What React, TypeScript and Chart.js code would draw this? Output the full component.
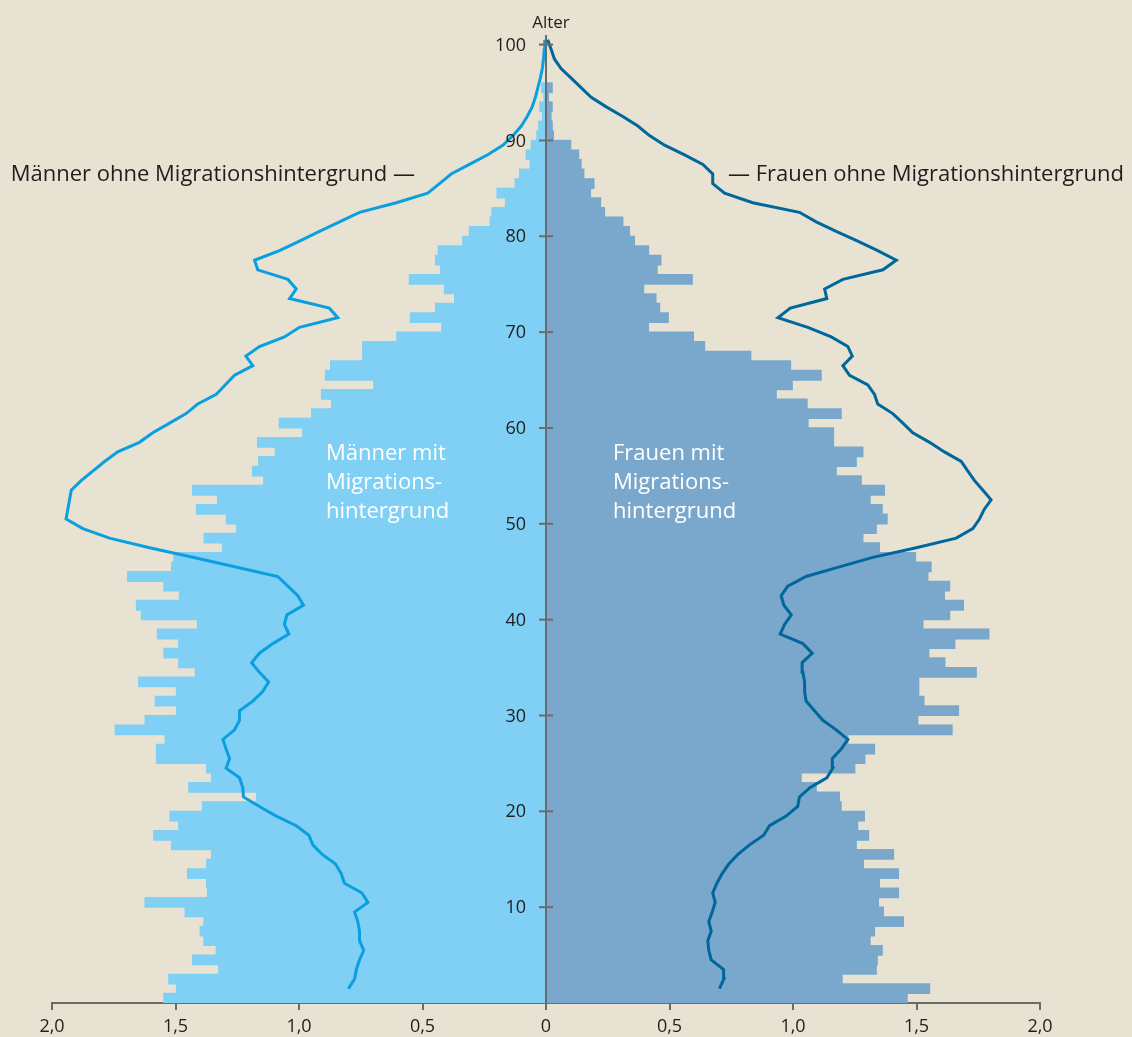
import { useEffect, useRef } from 'react';
import { Chart, registerables } from 'chart.js';

Chart.register(...registerables);

// Share of population (%) per single year of age, ages 0..100
const menWithMigration = [
  1.547, 1.496, 1.527, 1.325, 1.431, 1.335, 1.385, 1.40, 1.385, 1.461,
  1.623, 1.370, 1.374, 1.451, 1.374, 1.354, 1.516, 1.588, 1.487, 1.522,
  1.391, 1.172, 1.446, 1.354, 1.374, 1.577, 1.577, 1.542, 1.744, 1.623,
  1.496, 1.582, 1.496, 1.649, 1.420, 1.487, 1.547, 1.487, 1.573, 1.411,
  1.638, 1.658, 1.484, 1.547, 1.694, 1.516, 1.507, 1.310, 1.384, 1.253,
  1.294, 1.415, 1.330, 1.431, 1.143, 1.188, 1.163, 1.096, 1.168, 0.985,
  1.080, 0.949, 0.868, 0.909, 0.697, 0.893, 0.872, 0.742, 0.742, 0.604,
  0.422, 0.549, 0.447, 0.370, 0.411, 0.553, 0.427, 0.447, 0.436, 0.337,
  0.310, 0.226, 0.219, 0.164, 0.198, 0.125, 0.107, 0.064, 0.080, 0.060,
  0.037, 0.029, 0.014, 0.025, 0.008, 0.017, 0, 0, 0, 0, 0,
];

const womenWithMigration = [
  1.462, 1.553, 1.199, 1.337, 1.341, 1.361, 1.312, 1.330, 1.447, 1.366,
  1.346, 1.427, 1.350, 1.427, 1.285, 1.407, 1.256, 1.306, 1.262, 1.289,
  1.195, 1.188, 1.094, 1.033, 1.250, 1.291, 1.330, 1.222, 1.644, 1.505,
  1.670, 1.530, 1.509, 1.509, 1.742, 1.615, 1.550, 1.655, 1.793, 1.526,
  1.634, 1.690, 1.613, 1.634, 1.546, 1.559, 1.496, 1.350, 1.283, 1.337,
  1.381, 1.361, 1.312, 1.370, 1.276, 1.175, 1.256, 1.283, 1.164, 1.164,
  1.061, 1.195, 1.057, 0.932, 0.997, 1.114, 0.990, 0.829, 0.642, 0.597,
  0.415, 0.495, 0.460, 0.445, 0.395, 0.592, 0.450, 0.465, 0.415, 0.358,
  0.338, 0.311, 0.237, 0.221, 0.180, 0.194, 0.153, 0.142, 0.132, 0.100,
  0.030, 0.025, 0.020, 0.025, 0.010, 0.025, 0, 0, 0, 0, 0,
];

// Lines: ages 1..100
const menWithout = [
  0.800, 0.775, 0.768, 0.755, 0.738, 0.755, 0.755, 0.762, 0.775, 0.721,
  0.746, 0.816, 0.829, 0.852, 0.906, 0.944, 0.960, 1.011, 1.092, 1.160,
  1.225, 1.228, 1.241, 1.295, 1.281, 1.295, 1.308, 1.261, 1.241, 1.241,
  1.187, 1.147, 1.123, 1.160, 1.192, 1.160, 1.106, 1.041, 1.059, 1.049,
  0.982, 1.005, 1.045, 1.086, 1.256, 1.430, 1.605, 1.767, 1.875, 1.943,
  1.936, 1.929, 1.922, 1.882, 1.835, 1.787, 1.734, 1.646, 1.592, 1.524,
  1.457, 1.410, 1.335, 1.298, 1.261, 1.187, 1.215, 1.160, 1.059, 0.998,
  0.843, 0.877, 1.038, 1.011, 1.045, 1.167, 1.180, 1.079, 0.998, 0.917,
  0.836, 0.755, 0.606, 0.479, 0.431, 0.384, 0.310, 0.236, 0.175, 0.134,
  0.100, 0.076, 0.056, 0.043, 0.033, 0.023, 0.015, 0.010, 0.007, 0.005,
];

const womenWithout = [
  0.702, 0.720, 0.719, 0.669, 0.659, 0.655, 0.669, 0.659, 0.673, 0.685,
  0.675, 0.692, 0.713, 0.740, 0.777, 0.824, 0.881, 0.905, 0.972, 1.019,
  1.026, 1.070, 1.137, 1.161, 1.159, 1.195, 1.222, 1.175, 1.121, 1.087,
  1.053, 1.047, 1.047, 1.040, 1.037, 1.078, 1.040, 0.948, 0.966, 0.993,
  0.963, 0.952, 0.979, 1.053, 1.188, 1.323, 1.499, 1.661, 1.728, 1.755,
  1.774, 1.802, 1.769, 1.735, 1.708, 1.681, 1.613, 1.553, 1.485, 1.445,
  1.404, 1.343, 1.330, 1.303, 1.229, 1.202, 1.240, 1.222, 1.155, 1.060,
  0.939, 0.989, 1.137, 1.128, 1.202, 1.364, 1.418, 1.343, 1.262, 1.175,
  1.094, 1.026, 0.837, 0.723, 0.675, 0.675, 0.635, 0.561, 0.480, 0.419,
  0.372, 0.311, 0.244, 0.183, 0.142, 0.102, 0.061, 0.034, 0.021, 0.007,
];

const xTickValues = [-2, -1.5, -1, -0.5, 0, 0.5, 1, 1.5, 2];
const xTickLabels = ['2,0', '1,5', '1,0', '0,5', '0', '0,5', '1,0', '1,5', '2,0'];
const yTickValues = [10, 20, 30, 40, 50, 60, 70, 80, 90, 100];
const yTickLabels = ['10', '20', '30', '40', '50', '60', '70', '80', '90', '100'];

const FONT = '"Open Sans", "Noto Sans", sans-serif';
const BG = '#e8e2d3';
const AXIS = '#6b6b6b';
const TEXT = '#1e1e1e';

const overlay = {
  id: 'overlay',
  afterDatasetsDraw(chart: any) {
    const { ctx, scales } = chart;
    const xs = scales.x;
    const ys = scales.y;
    const x0 = xs.getPixelForValue(0);
    ctx.save();
    ctx.strokeStyle = AXIS;
    ctx.lineWidth = 2;
    ctx.beginPath();
    ctx.moveTo(x0, ys.getPixelForValue(101));
    ctx.lineTo(x0, ys.getPixelForValue(0));
    ctx.stroke();
    ctx.font = `18px ${FONT}`;
    ctx.fillStyle = TEXT;
    ctx.textAlign = 'right';
    ctx.textBaseline = 'middle';
    yTickValues.forEach((v, i) => {
      const py = ys.getPixelForValue(v);
      ctx.beginPath();
      ctx.moveTo(x0 - 7, py);
      ctx.lineTo(x0 + 7, py);
      ctx.stroke();
      ctx.fillText(yTickLabels[i], x0 - 20, py + 1);
    });
    ctx.textAlign = 'center';
    ctx.textBaseline = 'alphabetic';
    ctx.font = `17px ${FONT}`;
    ctx.fillText('Alter', x0 + 5, 28);

    ctx.font = `22px ${FONT}`;
    ctx.textAlign = 'right';
    ctx.fillText('Männer ohne Migrationshintergrund —', 415, 181);
    ctx.textAlign = 'left';
    ctx.fillText('— Frauen ohne Migrationshintergrund', 728, 181);

    ctx.fillStyle = '#ffffff';
    ctx.font = `22px ${FONT}`;
    ['Männer mit', 'Migrations-', 'hintergrund'].forEach((t, i) => {
      ctx.fillText(t, 326, 460 + i * 29);
    });
    ['Frauen mit', 'Migrations-', 'hintergrund'].forEach((t, i) => {
      ctx.fillText(t, 613, 460 + i * 29);
    });
    ctx.restore();
  },
};

export default function App() {
  const ref = useRef<HTMLCanvasElement>(null);

  useEffect(() => {
    document.body.style.margin = '0';
    document.body.style.background = BG;
    const canvas = ref.current;
    if (!canvas) return;

    const barPoint = (sign: number) => (v: number, i: number) => ({ x: sign * v, y: i + 0.5 });
    const linePoint = (sign: number) => (v: number, i: number) => ({ x: sign * v, y: i + 1.5 });

    const chart = new Chart(canvas, {
      type: 'bar',
      data: {
        datasets: [
          {
            type: 'line',
            label: 'Männer ohne Migrationshintergrund',
            data: menWithout.map(linePoint(-1)),
            borderColor: '#0a9fdf',
            borderWidth: 3,
            pointRadius: 0,
            tension: 0,
            order: 0,
          } as any,
          {
            type: 'line',
            label: 'Frauen ohne Migrationshintergrund',
            data: womenWithout.map(linePoint(1)),
            borderColor: '#00679c',
            borderWidth: 3,
            pointRadius: 0,
            tension: 0,
            order: 0,
          } as any,
          {
            type: 'bar',
            label: 'Männer mit Migrationshintergrund',
            data: menWithMigration.map(barPoint(-1)),
            backgroundColor: '#80cff4',
            borderWidth: 0,
            inflateAmount: 0.6,
            order: 1,
          } as any,
          {
            type: 'bar',
            label: 'Frauen mit Migrationshintergrund',
            data: womenWithMigration.map(barPoint(1)),
            backgroundColor: '#7aa8cc',
            borderWidth: 0,
            inflateAmount: 0.6,
            order: 1,
          } as any,
        ],
      },
      options: {
        indexAxis: 'y',
        animation: false,
        responsive: false,
        maintainAspectRatio: false,
        layout: { padding: { left: 52, right: 92, top: 35, bottom: 0 } },
        plugins: { legend: { display: false }, tooltip: { enabled: false } },
        datasets: {
          bar: { grouped: false, barPercentage: 1, categoryPercentage: 1 },
        } as any,
        scales: {
          x: {
            type: 'linear',
            min: -2,
            max: 2,
            offset: false,
            afterBuildTicks: (s: any) => {
              s.ticks = xTickValues.map((v) => ({ value: v }));
            },
            afterFit: (s: any) => {
              s.height = 34;
            },
            ticks: {
              callback: (_v: any, i: number) => xTickLabels[i],
              font: { family: FONT, size: 18 },
              color: TEXT,
              padding: 6,
              maxRotation: 0,
              autoSkip: false,
            },
            grid: {
              drawOnChartArea: false,
              drawTicks: true,
              tickLength: 7,
              color: AXIS,
              lineWidth: 2,
              offset: false,
            },
            border: { display: true, color: AXIS, width: 2 },
          },
          y: {
            type: 'linear',
            min: 0,
            max: 101,
            offset: false,
            grid: { offset: false },
            display: false,
          },
        },
      } as any,
      plugins: [overlay],
    });
    return () => chart.destroy();
  }, []);

  return (
    <div style={{ width: 1132, height: 1037, background: BG }}>
      <canvas ref={ref} width={1132} height={1037} style={{ display: 'block' }} />
    </div>
  );
}
